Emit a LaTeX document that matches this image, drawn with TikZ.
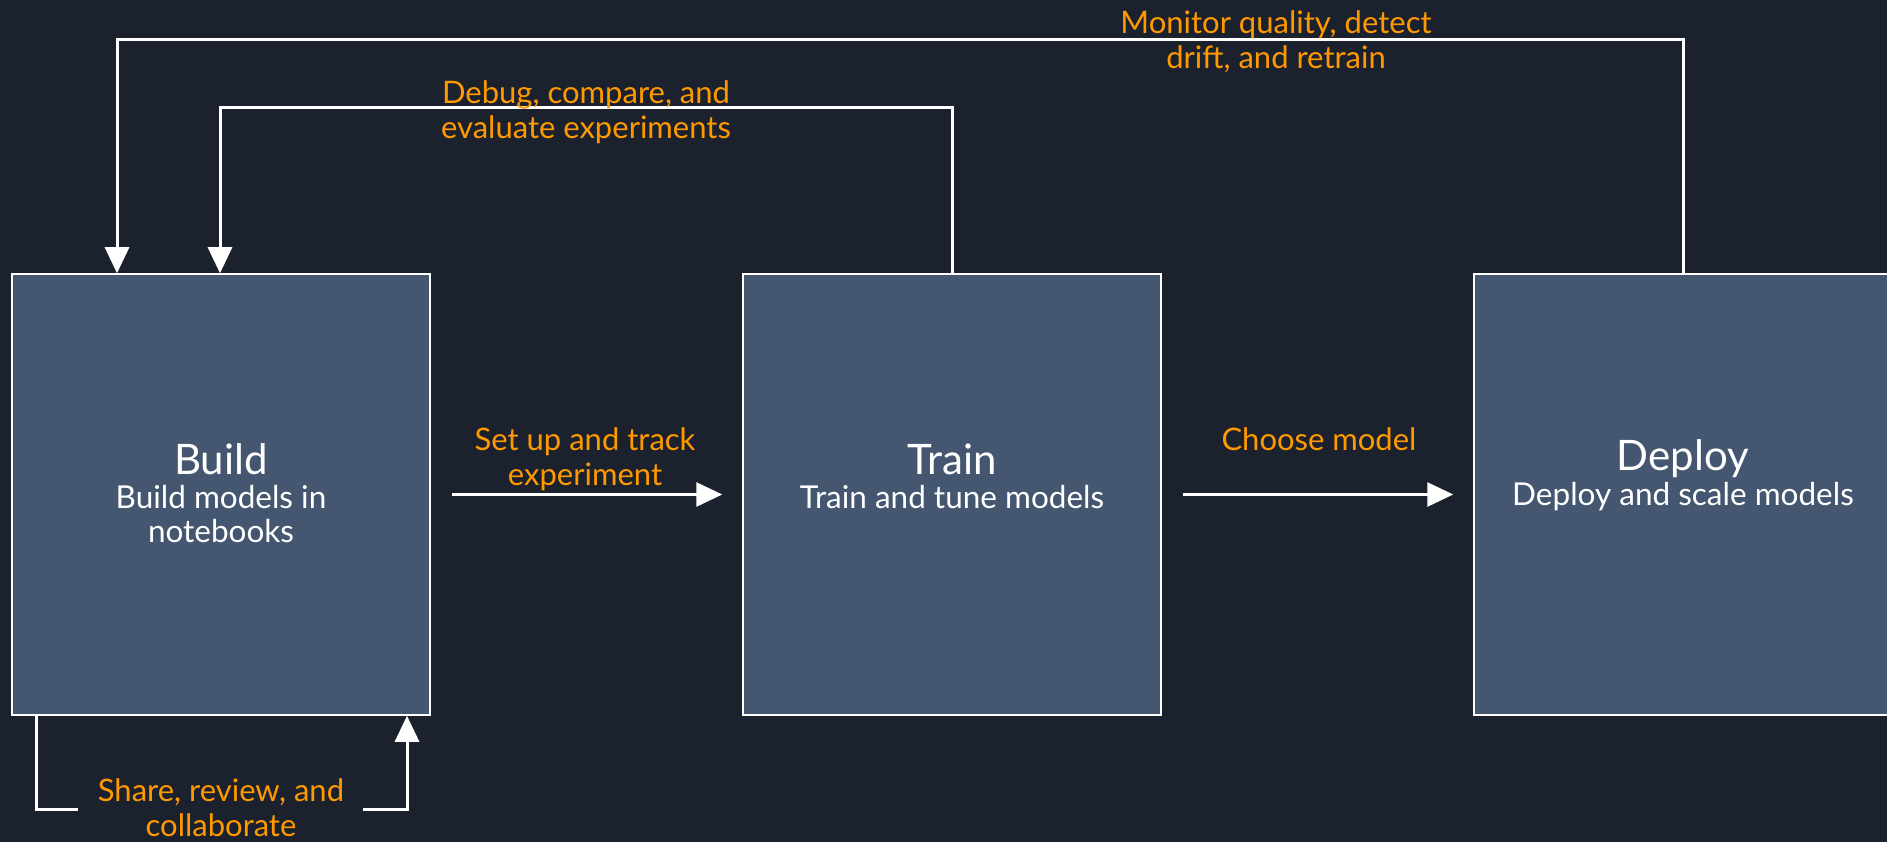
\documentclass[tikz,border=0pt]{standalone}
\usepackage{fontspec}
\setmainfont{Lato}
\usetikzlibrary{arrows.meta}
\definecolor{bg}{RGB}{27,33,45}
\definecolor{boxfill}{RGB}{69,87,112}
\definecolor{amz}{RGB}{255,153,0}
\begin{document}
\begin{tikzpicture}[x=1pt,y=-1pt,
  stage/.style={draw=white,line width=1.5pt,fill=boxfill,minimum width=418pt,minimum height=441pt,inner sep=0pt},
  ttl/.style={text=white,font=\fontsize{42}{48}\selectfont},
  sub/.style={text=white,align=center,font=\fontsize{31.5}{34}\selectfont},
  lbl/.style={text=amz,align=center,font=\fontsize{31}{35}\selectfont},
  flow/.style={draw=white,line width=3pt,-{Triangle[length=26pt,width=24pt]}},
  plain/.style={draw=white,line width=3pt}]
\fill[bg] (0,0) rectangle (1887,842);
\useasboundingbox (0,0) rectangle (1887,842);
\node[stage] (build) at (221,494.5) {};
\node[stage] (train) at (952,494.5) {};
\node[stage] (deploy) at (1683,494.5) {};
% texts in boxes
\node[ttl] (buildt) at (221,459) {Build};
\node[sub] (builds) at (221,514) {Build models in\\notebooks};
\node[ttl] (traint) at (952,459) {Train};
\node[sub] (trains) at (952,497) {Train and tune models};
\node[ttl] (deployt) at (1683,459) {Deploy};
\node[sub] (deploys) at (1683,497) {Deploy and scale models};
% forward arrows
\draw[flow,shorten <=21pt,shorten >=20pt] (build.east) -- (train.west);
\draw[flow,shorten <=21pt,shorten >=20pt] (train.east) -- (deploy.west);
\node[lbl] (l1) at (585,459) {Set up and track\\experiment};
\node[lbl] (l2) at (1319,439) {Choose model};
% inner loop
\coordinate (i1) at (220,108);
\draw[flow] (train.north) |- (i1) -- (i1 |- build.north);
\node[lbl] (l3) at (586,112) {Debug, compare, and\\evaluate experiments};
% outer loop
\coordinate (o1) at (117,40);
\draw[flow] (deploy.north) |- (o1) -- (o1 |- build.north);
\node[lbl] (l4) at (1276,42) {Monitor quality, detect\\drift, and retrain};
% bottom loop
\coordinate (b1) at (36,809);
\coordinate (b2) at (78,809);
\coordinate (b3) at (363,809);
\coordinate (b4) at (407,809);
\draw[plain] (b1 |- build.south) -- (b1) -- (b2);
\draw[flow] (b3) -- (b4) -- (b4 |- build.south);
\node[lbl] (l5) at (221,808) {Share, review, and\\collaborate};
\end{tikzpicture}
\end{document}
